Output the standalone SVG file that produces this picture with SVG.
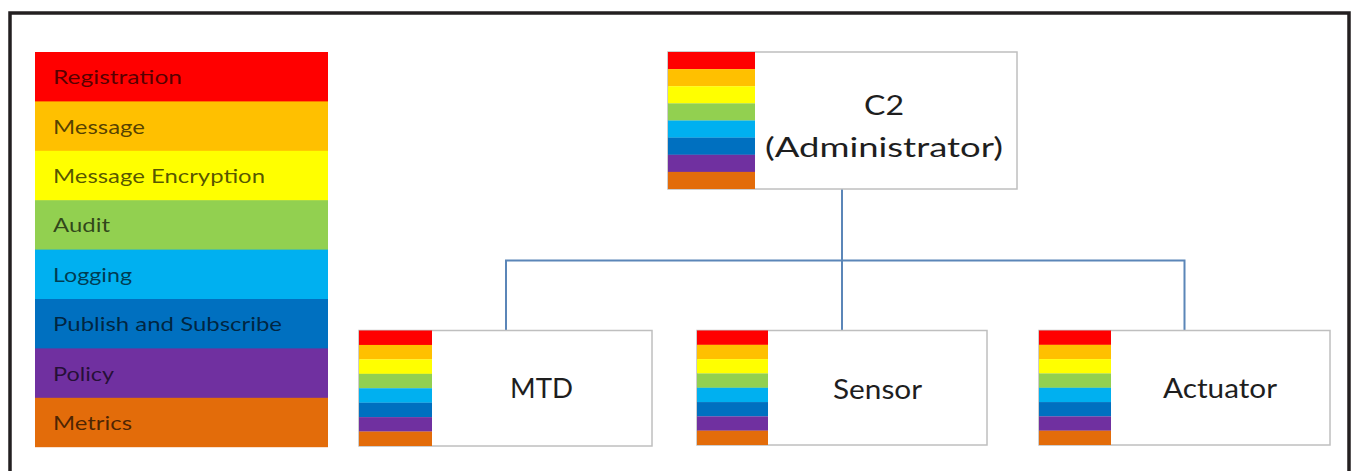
<svg xmlns="http://www.w3.org/2000/svg" width="1351" height="471" viewBox="0 0 1351 471">
  <defs>
    <style>
      .frame { fill: none; stroke: #231f20; stroke-width: 3.5; }
      .box { fill: #ffffff; stroke: #bfbfbf; stroke-width: 1.5; }
      .wire { fill: none; stroke: #5b86b8; stroke-width: 2; }
      .legend-text { font-family: Lato, "Open Sans", "Liberation Sans", sans-serif; font-size: 20px; fill: #000000; fill-opacity: 0.68; }
      .node-text { font-family: Lato, "Open Sans", "Liberation Sans", sans-serif; font-size: 27px; fill: #1e1e1e; text-anchor: middle; }
      .c-red { fill: #ff0000; }
      .c-amber { fill: #ffc000; }
      .c-yellow { fill: #ffff00; }
      .c-green { fill: #92d050; }
      .c-sky { fill: #00b0f0; }
      .c-blue { fill: #0070c0; }
      .c-purple { fill: #7030a0; }
      .c-orange { fill: #e36c0a; }
    </style>
    <!-- colour strip used on each node: 8 bands over a unit height, scaled per node -->
    <g id="strip">
      <rect class="c-red" x="0" y="0" width="1" height="0.126"/>
      <rect class="c-amber" x="0" y="0.125" width="1" height="0.126"/>
      <rect class="c-yellow" x="0" y="0.25" width="1" height="0.126"/>
      <rect class="c-green" x="0" y="0.375" width="1" height="0.126"/>
      <rect class="c-sky" x="0" y="0.5" width="1" height="0.126"/>
      <rect class="c-blue" x="0" y="0.625" width="1" height="0.126"/>
      <rect class="c-purple" x="0" y="0.75" width="1" height="0.126"/>
      <rect class="c-orange" x="0" y="0.875" width="1" height="0.125"/>
    </g>
  </defs>

  <rect width="1351" height="471" fill="#ffffff"/>
  <!-- outer frame, open at the bottom edge -->
  <path class="frame" d="M10,480 V13 H1349 V480"/>

  <!-- legend -->
  <g id="legend">
    <rect class="c-red" x="35" y="52" width="293" height="50"/>
    <rect class="c-amber" x="35" y="101.4" width="293" height="50"/>
    <rect class="c-yellow" x="35" y="150.8" width="293" height="50"/>
    <rect class="c-green" x="35" y="200.2" width="293" height="50"/>
    <rect class="c-sky" x="35" y="249.6" width="293" height="50"/>
    <rect class="c-blue" x="35" y="299" width="293" height="50"/>
    <rect class="c-purple" x="35" y="348.4" width="293" height="50"/>
    <rect class="c-orange" x="35" y="397.8" width="293" height="49.4"/>
    <text class="legend-text" x="53" y="84" textLength="129" lengthAdjust="spacingAndGlyphs">Registration</text>
    <text class="legend-text" x="53" y="134" textLength="92" lengthAdjust="spacingAndGlyphs">Message</text>
    <text class="legend-text" x="53" y="183" textLength="212" lengthAdjust="spacingAndGlyphs">Message Encryption</text>
    <text class="legend-text" x="53" y="232" textLength="57" lengthAdjust="spacingAndGlyphs">Audit</text>
    <text class="legend-text" x="53" y="282" textLength="79" lengthAdjust="spacingAndGlyphs">Logging</text>
    <text class="legend-text" x="53" y="331" textLength="229" lengthAdjust="spacingAndGlyphs">Publish and Subscribe</text>
    <text class="legend-text" x="53" y="381" textLength="61" lengthAdjust="spacingAndGlyphs">Policy</text>
    <text class="legend-text" x="53" y="430" textLength="79" lengthAdjust="spacingAndGlyphs">Metrics</text>
  </g>

  <!-- connectors -->
  <g id="connectors">
    <path class="wire" d="M842,189 V331"/>
    <path class="wire" d="M506,331 V260.5 H1184.5 V331"/>
  </g>

  <!-- C2 node -->
  <g id="node-c2">
    <rect class="box" x="668" y="52" width="349" height="137"/>
    <use href="#strip" transform="translate(668,52) scale(87,137)"/>
    <text class="node-text" x="884" y="115" font-size="30" textLength="40" lengthAdjust="spacingAndGlyphs">C2</text>
    <text class="node-text" x="884" y="157" font-size="30" textLength="238" lengthAdjust="spacingAndGlyphs">(Administrator)</text>
  </g>

  <!-- MTD node -->
  <g id="node-mtd">
    <rect class="box" x="359" y="330.5" width="293" height="115.5"/>
    <use href="#strip" transform="translate(359,330.5) scale(73,115.5)"/>
    <text class="node-text" x="541.5" y="398" textLength="63" lengthAdjust="spacingAndGlyphs">MTD</text>
  </g>

  <!-- Sensor node -->
  <g id="node-sensor">
    <rect class="box" x="697" y="330.5" width="290" height="114.5"/>
    <use href="#strip" transform="translate(697,330.5) scale(71,114.5)"/>
    <text class="node-text" x="877.5" y="398.5" textLength="89" lengthAdjust="spacingAndGlyphs">Sensor</text>
  </g>

  <!-- Actuator node -->
  <g id="node-actuator">
    <rect class="box" x="1039" y="330.5" width="291" height="114.5"/>
    <use href="#strip" transform="translate(1039,330.5) scale(72,114.5)"/>
    <text class="node-text" x="1220" y="398" textLength="114" lengthAdjust="spacingAndGlyphs">Actuator</text>
  </g>
</svg>
